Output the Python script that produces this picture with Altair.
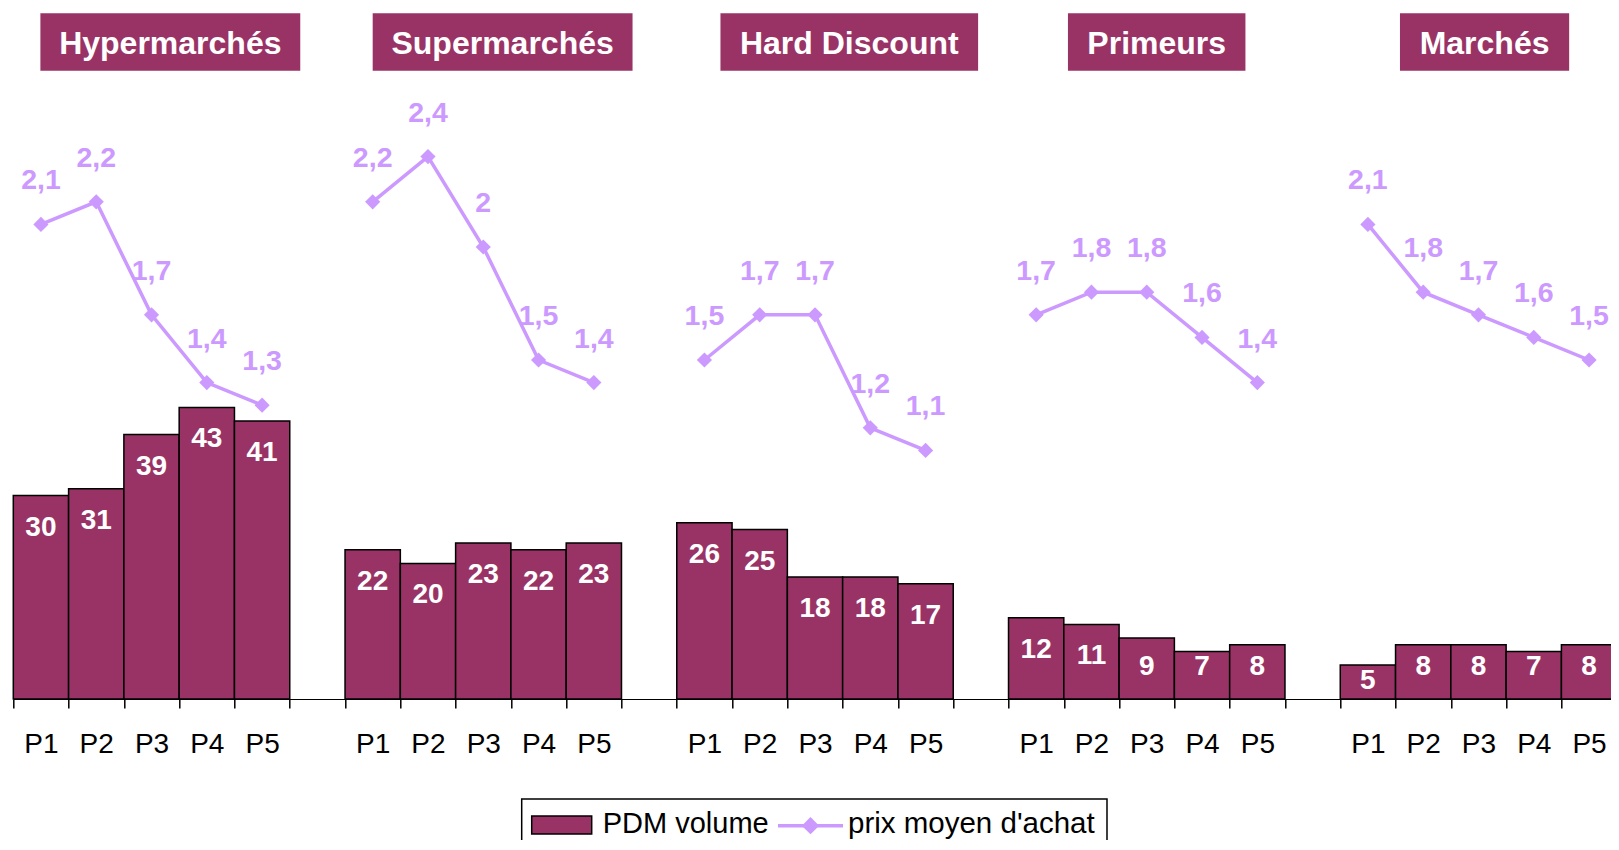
import json
import pandas as pd
import altair as alt

# ---------------- data ----------------
groups = ["Hypermarchés", "Supermarchés", "Hard Discount", "Primeurs", "Marchés"]
periods = ["P1", "P2", "P3", "P4", "P5"]
series = ["PDM volume", "prix moyen d'achat"]

pdm_hyper = [30, 31, 39, 43, 41]
pdm_super = [22, 20, 23, 22, 23]
pdm_hd = [26, 25, 18, 18, 17]
pdm_primeurs = [12, 11, 9, 7, 8]
pdm_marches = [5, 8, 8, 7, 8]

prix_hyper = [2.1, 2.2, 1.7, 1.4, 1.3]
prix_super = [2.2, 2.4, 2.0, 1.5, 1.4]
prix_hd = [1.5, 1.7, 1.7, 1.2, 1.1]
prix_primeurs = [1.7, 1.8, 1.8, 1.6, 1.4]
prix_marches = [2.1, 1.8, 1.7, 1.6, 1.5]

# layout of the title boxes (in category-slot units)
title_center = [2.84, 8.85, 15.12, 20.68, 26.61]
title_span = [4.70, 4.70, 4.66, 3.21, 3.06]

# ---------------- styles ----------------
MAROON = "#993366"
LILAC = "#CC99FF"
FONT = "Liberation Sans"
SLOT_PX = 55.29
W, H = 1597.7, 678

pdm_all = [pdm_hyper, pdm_super, pdm_hd, pdm_primeurs, pdm_marches]
prix_all = [prix_hyper, prix_super, prix_hd, prix_primeurs, prix_marches]
step = len(periods) + 1
rows = []
for g, name in enumerate(groups):
    for p, per in enumerate(periods):
        rows.append({"groupe": name, "periode": per, "slot": g * step + p,
                     "pdm": pdm_all[g][p], "prix": prix_all[g][p]})
df = pd.DataFrame(rows)
n_slots = len(groups) * step - 1

# the visible window ends slightly before the last slot edge (as in the original)
x_scale = alt.Scale(domain=[0, W / SLOT_PX], nice=False, zero=False)
y_bar = alt.Scale(domain=[0, 100], nice=False, zero=True)
y_prix = alt.Scale(domain=[0, 3], nice=False, zero=True)

label_arr = json.dumps(periods + [""])
x_axis = alt.Axis(
    values=[i / 2 for i in range(2 * n_slots + 1)],
    labelExpr=f"datum.value % 1 == 0 ? '' : {label_arr}[floor(datum.value) % {step}]",
    tickOpacity={"condition": {"test": "datum.value % 1 == 0", "value": 1}, "value": 0},
    tickSize=9, tickWidth=1.5, tickColor="black",
    domainColor="black", domainWidth=1,
    labelFont=FONT, labelFontSize=28, labelColor="black", labelAngle=0,
    labelBaseline="alphabetic", labelPadding=44,
    labelOverlap=False, labelFlush=False, labelBound=False,
    grid=False, title=None,
)

base = alt.Chart(df).transform_calculate(x2="datum.slot + 1", xc="datum.slot + 0.5")

bars = base.mark_rect(fill=MAROON, stroke="black", strokeWidth=1.5).encode(
    x=alt.X("slot:Q", scale=x_scale, axis=x_axis),
    x2="x2:Q",
    y=alt.Y("pdm:Q", scale=y_bar, axis=None),
    y2=alt.datum(0),
)
bar_labels = base.transform_calculate(
    lab="datum.pdm < 6 ? datum.pdm / 2 - 1 : max(datum.pdm - 5.9, 3.5)"
).mark_text(font=FONT, fontSize=28, fontWeight="bold", color="white",
            baseline="alphabetic").encode(
    x=alt.X("xc:Q", scale=x_scale, axis=x_axis),
    y=alt.Y("lab:Q", scale=y_bar, axis=None),
    text="pdm:Q",
)

line = base.mark_line(color=LILAC, strokeWidth=3.5).encode(
    x=alt.X("xc:Q", scale=x_scale, axis=x_axis),
    y=alt.Y("prix:Q", scale=y_prix, axis=None),
    detail="groupe:N",
)
points = base.mark_point(shape="diamond", filled=True, size=230, color=LILAC, opacity=1).encode(
    x=alt.X("xc:Q", scale=x_scale, axis=x_axis),
    y=alt.Y("prix:Q", scale=y_prix, axis=None),
)
prix_labels = base.transform_calculate(
    txt="replace(toString(datum.prix), '.', ',')"
).mark_text(font=FONT, fontSize=28.5, fontWeight="bold", color=LILAC,
            baseline="alphabetic", dy=-35).encode(
    x=alt.X("xc:Q", scale=x_scale, axis=x_axis),
    y=alt.Y("prix:Q", scale=y_prix, axis=None),
    text="txt:N",
)

tdf = pd.DataFrame({"groupe": groups, "centre": title_center, "span": title_span})
tbase = alt.Chart(tdf).transform_calculate(
    bx="datum.centre - datum.span / 2", bx2="datum.centre + datum.span / 2")
title_rect = tbase.mark_rect(color=MAROON).encode(
    x=alt.X("bx:Q", scale=x_scale, axis=x_axis), x2="bx2:Q",
    y=alt.value(-7.7), y2=alt.value(49.7),
)
title_text = tbase.mark_text(font=FONT, fontSize=32, fontWeight="bold", color="white",
                             baseline="alphabetic").encode(
    x=alt.X("centre:Q", scale=x_scale, axis=x_axis),
    y=alt.value(33),
    text="groupe:N",
)

# ---------------- legend (drawn) ----------------
s0 = alt.Chart(pd.DataFrame({"serie": [series[0]]}))
s1 = alt.Chart(pd.DataFrame({"serie": [series[1]]}))
leg_box = s0.mark_rect(fill="white", stroke="black", strokeWidth=1.5).encode(
    x=alt.value(508.4), x2=alt.value(1093.7), y=alt.value(778), y2=alt.value(845))
leg_swatch = s0.mark_rect(fill=MAROON, stroke="black", strokeWidth=1.5).encode(
    x=alt.value(518.4), x2=alt.value(578.4), y=alt.value(795), y2=alt.value(813))
leg_t0 = s0.mark_text(font=FONT, fontSize=29, color="black", align="left",
                      baseline="alphabetic").encode(
    x=alt.value(589.4), y=alt.value(812), text="serie:N")
leg_line = s1.mark_rule(color=LILAC, strokeWidth=3.5).encode(
    x=alt.value(764.7), x2=alt.value(829.7), y=alt.value(804.7))
leg_pt = s1.mark_point(shape="diamond", filled=True, size=300, color=LILAC, opacity=1).encode(
    x=alt.value(797.2), y=alt.value(804.7))
leg_t1 = s1.mark_text(font=FONT, fontSize=29.5, color="black", align="left",
                      baseline="alphabetic").encode(
    x=alt.value(834.7), y=alt.value(812), text="serie:N")

bar_part = alt.layer(bars, bar_labels)
line_part = alt.layer(line, points, prix_labels)
deco = alt.layer(title_rect, title_text, leg_box, leg_swatch, leg_t0, leg_line, leg_pt, leg_t1)

chart = alt.layer(bar_part, line_part, deco).resolve_scale(y="independent").properties(
    width=W, height=H,
    padding={"left": 5.3, "top": 13, "right": 0, "bottom": 141},
    autosize=alt.AutoSizeParams(type="none"),
).configure_view(strokeWidth=0)

chart.save("out.html", embed_options={"renderer": "svg", "actions": False})
